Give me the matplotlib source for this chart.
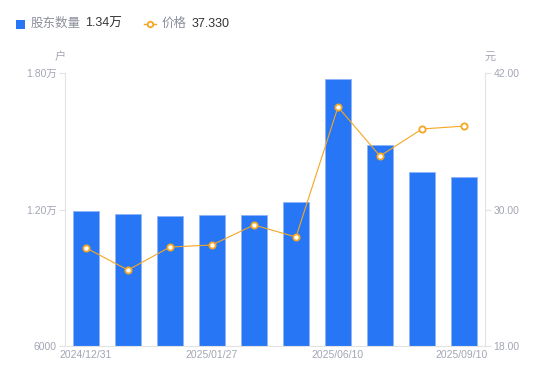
import numpy as np
import matplotlib
matplotlib.use('Agg')
import matplotlib.pyplot as plt
import matplotlib.transforms as mtransforms
from matplotlib.lines import Line2D
from matplotlib.patches import Rectangle

plt.rcParams['font.family'] = ['Liberation Sans', 'Noto Sans CJK SC', 'DejaVu Sans']

# Données
dates = ['2024/12/31', '2025/01/10', '2025/01/20', '2025/01/27', '2025/03/10',
         '2025/04/30', '2025/06/10', '2025/06/30', '2025/08/20', '2025/09/10']
holders = [11930, 11800, 11710, 11760, 11760, 12330, 17740, 14840, 13650, 13430]
price = [26.62, 24.68, 26.70, 26.88, 28.64, 27.58, 39.01, 34.70, 37.08, 37.33]
tick_idx = [0, 3, 6, 9]
left_ticks = [6000, 12000, 18000]
left_labels = ['6000', '1.20万', '1.80万']
right_ticks = [18, 30, 42]

blue = '#2776F5'
orange = '#F5A623'
grey_txt = '#A3A6B4'
axis_col = '#E3E3E3'

fig = plt.figure(figsize=(5.5, 3.81), dpi=100)
ax = fig.add_axes([65/550, 35/381, 420/550, 273/381])
x = np.arange(len(dates))

ax.bar(x, holders, width=0.6, color=blue, edgecolor='#8FB5F8', linewidth=0.6, zorder=2)
ax.set_xlim(-0.5, len(dates) - 0.5)
ax.set_ylim(6000, 18000)
ax.set_yticks(left_ticks)
ax.set_yticklabels(left_labels)
ax.set_xticks([x[i] for i in tick_idx])
ax.set_xticklabels([dates[i] for i in tick_idx])

ax2 = ax.twinx()
ax2.plot(x, price, color=orange, linewidth=0.8, marker='o', markersize=4.5,
         markerfacecolor='white', markeredgecolor=orange, markeredgewidth=1.3, zorder=3)
ax2.set_ylim(18, 42)
ax2.set_yticks(right_ticks)
ax2.set_yticklabels([f'{v:.2f}' for v in right_ticks])

for a in (ax, ax2):
    for s in a.spines.values():
        s.set_visible(False)
    a.tick_params(colors=grey_txt, labelsize=7.5, length=4, width=0.8, color=axis_col, pad=2)
ax.spines['left'].set_visible(True)
ax.spines['left'].set_color(axis_col)
ax.spines['bottom'].set_visible(True)
ax.spines['bottom'].set_color(axis_col)
ax2.spines['right'].set_visible(True)
ax2.spines['right'].set_color(axis_col)
ax.tick_params(axis='x', length=0, pad=3)

# dernière étiquette alignée à droite sur le bord
last = ax.get_xticklabels()[-1]
last.set_horizontalalignment('right')
last.set_transform(last.get_transform() + mtransforms.ScaledTranslation(24/100, 0, fig.dpi_scale_trans))

# unités
fig.text(60/550, 1 - 57/381, '户', color=grey_txt, fontsize=8, ha='center', va='center')
fig.text(490/550, 1 - 57/381, '元', color=grey_txt, fontsize=8, ha='center', va='center')

# légende
fig.patches.append(Rectangle((16/550, 1 - 29/381), 9/550, 9/381, transform=fig.transFigure,
                             facecolor=blue, edgecolor='none'))
fig.text(31/550, 1 - 24/381, '股东数量', color='#8C8F9A', fontsize=9, va='center')
fig.text(85/550, 1 - 24/381, '1.34万', color='#333333', fontsize=9, va='center')
fig.lines.append(Line2D([144/550, 156/550], [1 - 24/381, 1 - 24/381], transform=fig.transFigure,
                        color=orange, linewidth=1))
fig.lines.append(Line2D([150/550], [1 - 24/381], transform=fig.transFigure,
                        color=orange, marker='o', markersize=4,
                        markerfacecolor='white', markeredgecolor=orange, markeredgewidth=1.3))
fig.text(162/550, 1 - 24/381, '价格', color='#8C8F9A', fontsize=9, va='center')
fig.text(192/550, 1 - 24/381, '37.330', color='#333333', fontsize=9, va='center')

fig.savefig('out.png', dpi=100)
